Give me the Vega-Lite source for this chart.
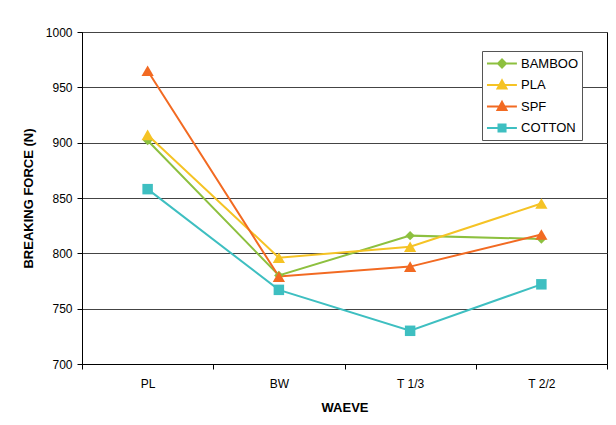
{
  "$schema": "https://vega.github.io/schema/vega-lite/v6.json",
  "width": 525,
  "height": 332,
  "autosize": "none",
  "padding": {"left": 82, "top": 32, "right": 9, "bottom": 61},
  "background": "white",
  "config": {
    "font": "Liberation Sans",
    "view": {"stroke": "#000", "strokeWidth": 1},
    "axis": {"labelFont": "Liberation Sans", "titleFont": "Liberation Sans", "labelColor": "#000", "titleColor": "#000"}
  },
  "data": {
    "values": [
      {"weave": "PL", "series": "BAMBOO", "force": 902},
      {"weave": "BW", "series": "BAMBOO", "force": 780},
      {"weave": "T 1/3", "series": "BAMBOO", "force": 816},
      {"weave": "T 2/2", "series": "BAMBOO", "force": 813},
      {"weave": "PL", "series": "PLA", "force": 907},
      {"weave": "BW", "series": "PLA", "force": 796},
      {"weave": "T 1/3", "series": "PLA", "force": 806},
      {"weave": "T 2/2", "series": "PLA", "force": 845},
      {"weave": "PL", "series": "SPF", "force": 965},
      {"weave": "BW", "series": "SPF", "force": 779},
      {"weave": "T 1/3", "series": "SPF", "force": 788},
      {"weave": "T 2/2", "series": "SPF", "force": 817},
      {"weave": "PL", "series": "COTTON", "force": 858},
      {"weave": "BW", "series": "COTTON", "force": 767},
      {"weave": "T 1/3", "series": "COTTON", "force": 730},
      {"weave": "T 2/2", "series": "COTTON", "force": 772}
    ]
  },
  "encoding": {
    "x": {
      "field": "weave", "type": "nominal", "sort": ["PL", "BW", "T 1/3", "T 2/2"],
      "bandPosition": 0.5,
      "scale": {"type": "band", "paddingInner": 0, "paddingOuter": 0},
      "axis": {
        "title": "WAEVE", "labelAngle": 0, "labelFontSize": 12, "titleFontSize": 13, "titleFontWeight": "bold",
        "tickBand": "extent", "tickSize": 5, "tickColor": "#000", "domainColor": "#000",
        "labelPadding": 9, "titlePadding": 12, "grid": false
      }
    },
    "y": {
      "field": "force", "type": "quantitative",
      "scale": {"domain": [700, 1000], "nice": false, "zero": false},
      "axis": {
        "title": "BREAKING FORCE (N)", "values": [700, 750, 800, 850, 900, 950, 1000], "format": "d",
        "labelFontSize": 12, "titleFontSize": 13, "titleFontWeight": "bold",
        "tickSize": 5, "tickColor": "#000", "domainColor": "#000", "labelPadding": 5, "titlePadding": 10,
        "grid": true, "gridColor": "#444", "gridOpacity": 1
      }
    },
    "color": {
      "field": "series", "type": "nominal",
      "scale": {"domain": ["BAMBOO", "PLA", "SPF", "COTTON"], "range": ["#8DC03F", "#F5C325", "#F26A22", "#3EBFC1"]},
      "legend": {
        "title": null, "orient": "none", "legendX": 400, "legendY": 19,
        "strokeColor": "#555", "fillColor": "white", "padding": 3.5,
        "symbolSize": 256, "symbolStrokeWidth": 2, "symbolType": "M-0.94,0H2.8",
        "labelFont": "Liberation Sans", "labelFontSize": 13, "labelColor": "#000", "labelOffset": 17.5, "rowPadding": 4.5,
        "encode": {
          "symbols": {
            "update": {
              "shape": {"signal": "datum.value == 'BAMBOO' ? 'M-0.94,0H2.8M0.94,-0.5L1.44,0L0.94,0.5L0.44,0Z' : datum.value == 'COTTON' ? 'M-0.94,0H2.8M0.5,-0.44H1.38V0.44H0.5Z' : 'M-0.94,0H2.8M0.94,-0.58L1.5,0.45L0.38,0.45Z'"},
              "fill": {"signal": "scale('color', datum.value)"},
              "stroke": {"signal": "scale('color', datum.value)"},
              "strokeWidth": {"value": 2},
              "opacity": {"value": 1}
            }
          }
        }
      }
    }
  },
  "layer": [
    {
      "mark": {"type": "line", "strokeWidth": 2},
      "encoding": {"detail": {"field": "series"}}
    },
    {
      "transform": [{"filter": "datum.series == 'BAMBOO'"}],
      "mark": {"type": "point", "filled": true, "opacity": 1, "shape": "diamond", "size": 90}
    },
    {
      "transform": [{"filter": "datum.series == 'PLA'"}],
      "mark": {"type": "point", "filled": true, "opacity": 1, "shape": "triangle-up", "size": 150}
    },
    {
      "transform": [{"filter": "datum.series == 'SPF'"}],
      "mark": {"type": "point", "filled": true, "opacity": 1, "shape": "triangle-up", "size": 150}
    },
    {
      "transform": [{"filter": "datum.series == 'COTTON'"}],
      "mark": {"type": "point", "filled": true, "opacity": 1, "shape": "square", "size": 110}
    }
  ]
}
